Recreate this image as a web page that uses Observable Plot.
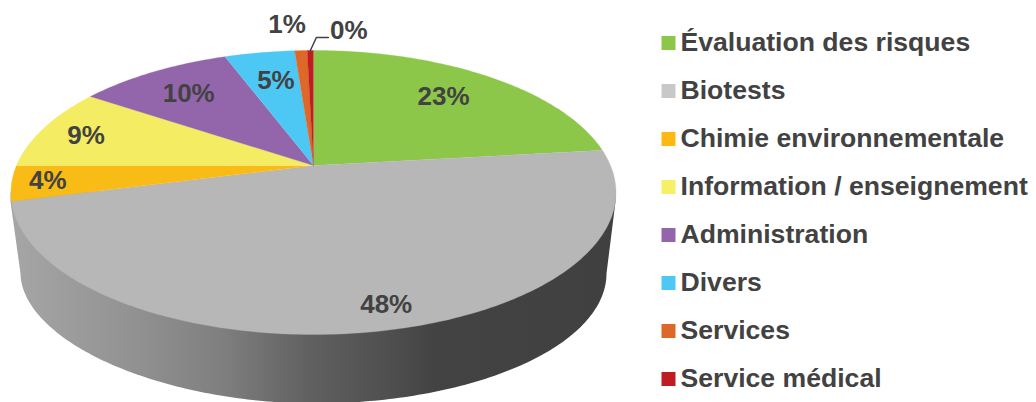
<!DOCTYPE html>
<html lang="fr">
<head>
<meta charset="utf-8">
<title>Répartition</title>
<style>html,body{margin:0;padding:0;background:#fff}svg{display:block}</style>
<script src="https://cdn.jsdelivr.net/npm/d3@7"></script>
<script src="https://cdn.jsdelivr.net/npm/@observablehq/plot@0.6"></script>
</head>
<body>
<div id="chart"></div>
<script>
// Data
const categories = ["Évaluation des risques","Biotests","Chimie environnementale","Information / enseignement","Administration","Divers","Services","Service médical"];
const shares = [23.2, 47.8, 4.0, 9.4, 9.9, 4.5, 0.8, 0.4];
const percentLabels = ["23%","48%","4%","9%","10%","5%","1%","0%"];
// Styles
const sliceColors = ["#8cc749","#b7b7b7","#f9bb16","#f4ec62","#9366ab","#4dc8f4","#dd6827","#c01b23"];
const legendColors = ["#8cc749","#c8c8c8","#fdb912","#f7ef66","#9366ab","#4dc8f4","#dd6827","#c01b23"];
const ink = "#424242";
// Layout: perspective disc
const cx = 313, cy = 165, a = 297, b = 136.9, k = 0.19;
const project = (t, r = 1) => {
  const u = r * Math.sin(t), v = -r * Math.cos(t), d = 1 - k * v;
  return [cx + a * u / d, cy + b * v / d];
};
const labelRadius = [0.75, 0.867, 0.87, 0.83, 0.74, 0.70, 1.28, 1.214];
const labelNudge = [[-4,0],[17,0],[-4,0],[-2,2],[-2,0],[2,-2],[-11,0],[39,0]];
const legendX = 668, legendY0 = 42.5, legendTextLift = 1, legendStep = 48;

const total = d3.sum(shares);
let cum = 0;
const slices = shares.map((s, i) => {
  const t0 = cum / total * 2 * Math.PI; cum += s;
  const t1 = cum / total * 2 * Math.PI;
  return {name: categories[i], color: sliceColors[i], t0, t1, mid: (t0 + t1) / 2};
});
const slicePts = slices.flatMap(s => {
  const n = Math.max(2, Math.ceil((s.t1 - s.t0) * 60));
  const pts = [{name: s.name, color: s.color, p: [cx, cy]}];
  for (let j = 0; j <= n; j++) pts.push({name: s.name, color: s.color, p: project(s.t0 + (s.t1 - s.t0) * j / n)});
  return pts;
});
// Side wall: rim down to the smaller lower ellipse
const wallCx = 313, wallCy = 273, wallRx = 293, wallRy = 130, rimY = 201;
const wall = [{p:[615, rimY - 10]}, {p:[615, rimY]}];
for (let j = 0; j <= 180; j++) {
  const t = Math.PI * j / 180;
  const c = Math.cos(t), s = Math.sin(t);
  // left half is slightly flatter than the right one
  const e = c < 0 ? 2 / 1.9 : 1;
  wall.push({p:[wallCx + wallRx * Math.sign(c) * Math.abs(c) ** e, wallCy + wallRy * s ** e]});
}
wall.push({p:[10, rimY]}, {p:[10, rimY - 10]});

const labels = slices.map((s, i) => {
  const q = project(s.mid, labelRadius[i]);
  return {text: percentLabels[i], x: q[0] + labelNudge[i][0], y: q[1] + labelNudge[i][1]};
});
const redRim = project(slices[7].mid, 1.0);
const leader = [{p: redRim}, {p: [redRim[0] + 6, redRim[1] - 13]}, {p: [redRim[0] + 18, redRim[1] - 13]}];
const legend = categories.map((name, i) => ({name, color: legendColors[i], y: legendY0 + i * legendStep}));

const font = {fontFamily: "'Liberation Sans', Arial, sans-serif", fontWeight: 700, fill: ink};

const defs = () => {
  const ns = "http://www.w3.org/2000/svg";
  const d = document.createElementNS(ns, "defs");
  const g = document.createElementNS(ns, "linearGradient");
  g.setAttribute("id", "wallGrad");
  [[0,"#a6a6a6"],[0.2,"#929292"],[0.35,"#7f7f7f"],[0.5,"#5f5f5f"],[0.62,"#505050"],[0.7,"#434343"],[1,"#404040"]].forEach(([o,c]) => {
    const st = document.createElementNS(ns, "stop");
    st.setAttribute("offset", o); st.setAttribute("stop-color", c); g.appendChild(st);
  });
  d.appendChild(g);
  return d;
};

const chart = Plot.plot({
  width: 1036, height: 402,
  margin: 0,
  style: {background: "#fff"},
  x: {domain: [0, 1036], range: [0, 1036], axis: null},
  y: {domain: [0, 402], range: [0, 402], axis: null},
  color: {type: "identity"},
  marks: [
    defs,
    Plot.line(wall, {x: d => d.p[0], y: d => d.p[1], fill: "url(#wallGrad)", stroke: "none"}),
    Plot.line(slicePts, {x: d => d.p[0], y: d => d.p[1], z: "name", fill: "color", stroke: "color", strokeWidth: 0.3}),
    Plot.line(leader, {x: d => d.p[0], y: d => d.p[1], stroke: ink, strokeWidth: 1.5}),
    Plot.text(labels, {x: "x", y: "y", text: "text", fontSize: 26, ...font}),
    Plot.dot(legend, {x: () => legendX, y: "y", symbol: "square", r: 7.9, fill: "color", stroke: "none"}),
    Plot.text(legend, {x: () => legendX + 12, y: d => d.y - legendTextLift, text: "name", textAnchor: "start", fontSize: 26.6, ...font})
  ]
});
document.getElementById("chart").appendChild(chart);
</script>
</body>
</html>
